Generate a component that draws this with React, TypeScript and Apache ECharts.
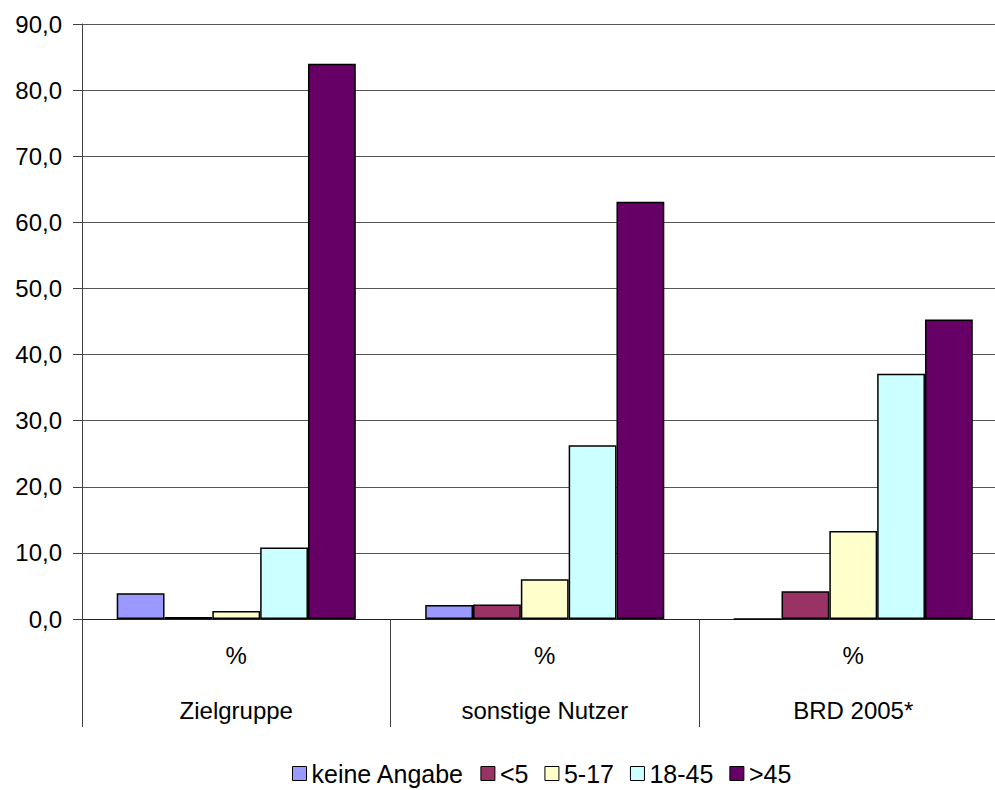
import { useEffect, useRef } from 'react';
import * as echarts from 'echarts';

// Age distribution (%) per group
const categories = ['Zielgruppe', 'sonstige Nutzer', 'BRD 2005*'];
const unitLabel = '%';
const seriesNames = ['keine Angabe', '<5', '5-17', '18-45', '>45'];
const keineAngabe = [3.9, 2.1, 0];
const under5 = [0.3, 2.2, 4.2];
const age5to17 = [1.2, 6.0, 13.3];
const age18to45 = [10.8, 26.3, 37.1];
const over45 = [84.0, 63.1, 45.3];
const seriesValues = [keineAngabe, under5, age5to17, age18to45, over45];
const seriesColors = ['#9999FF', '#993366', '#FFFFCC', '#CCFFFF', '#660066'];
const yMin = 0;
const yMax = 90;
const yStep = 10;

const FONT = '"Liberation Sans", Arial, sans-serif';

export default function App() {
  const ref = useRef<HTMLDivElement>(null);

  useEffect(() => {
    if (!ref.current) return;
    const chart = echarts.init(ref.current, null, { renderer: 'svg' });
    chart.setOption({
      animation: false,
      backgroundColor: '#ffffff',
      textStyle: { fontFamily: FONT },
      grid: {
        left: 82,
        top: 24,
        width: 925.5,
        bottom: 171,
        containLabel: false,
        outerBoundsMode: 'none',
      },
      xAxis: {
        type: 'category',
        data: categories,
        axisLine: { show: true, lineStyle: { color: '#222', width: 1 } },
        axisTick: {
          show: true,
          length: 108,
          interval: 0,
          lineStyle: { color: '#404040', width: 1 },
        },
        axisLabel: {
          interval: 0,
          margin: 9.5,
          lineHeight: 54.5,
          fontSize: 24,
          fontFamily: FONT,
          color: '#000',
          formatter: (v: string) => `${unitLabel}\n${v}`,
        },
        splitLine: { show: false },
      },
      yAxis: {
        type: 'value',
        min: yMin,
        max: yMax,
        interval: yStep,
        axisLine: { show: true, lineStyle: { color: '#404040', width: 1 } },
        axisTick: { show: true, length: 9, lineStyle: { color: '#404040', width: 1 } },
        axisLabel: {
          margin: 20,
          fontSize: 24,
          fontFamily: FONT,
          color: '#000',
          formatter: (v: number) => v.toFixed(1).replace('.', ','),
        },
        splitLine: { show: true, lineStyle: { color: '#555', width: 1 } },
      },
      legend: {
        data: seriesNames,
        left: 292,
        top: 761,
        padding: 0,
        icon: 'rect',
        itemWidth: 14,
        itemHeight: 14,
        itemGap: 16,
        itemStyle: { borderColor: '#000', borderWidth: 1 },
        textStyle: { fontSize: 25, fontFamily: FONT, color: '#000' },
      },
      series: seriesNames.map((name, i) => ({
        name,
        type: 'bar',
        data: seriesValues[i],
        barGap: '0%',
        barCategoryGap: '22.5%',
        itemStyle: { color: seriesColors[i], borderColor: '#000', borderWidth: 1.5 },
      })),
    });
    return () => chart.dispose();
  }, []);

  return (
    <div
      ref={ref}
      style={{ position: 'fixed', left: 0, top: 0, width: 995, height: 790, background: '#fff' }}
    />
  );
}
